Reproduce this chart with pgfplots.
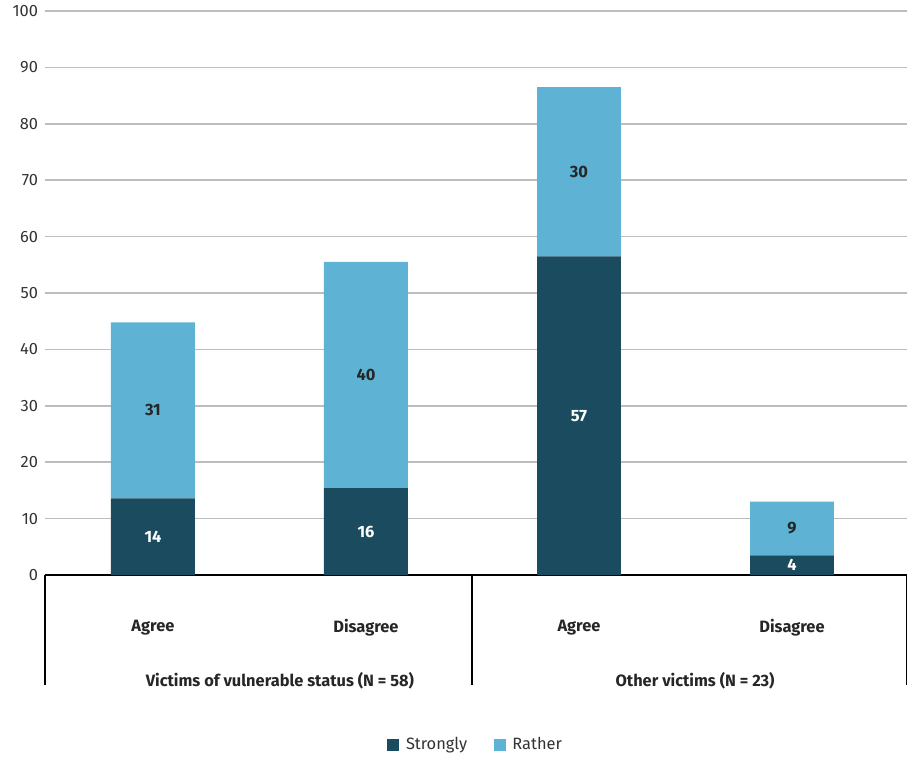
\documentclass[border=0pt]{standalone}
\usepackage{pgfplots}
\pgfplotsset{compat=1.18}
\usepackage{fontspec}
\setmainfont{Fira Sans}
\definecolor{dark}{HTML}{1B4B5E}
\definecolor{light}{HTML}{5EB2D4}
\definecolor{gridc}{HTML}{BDBDBD}
\definecolor{txt}{HTML}{333333}
\newcommand{\fs}{\fontsize{12.3}{14}\selectfont}
\begin{document}
\begin{tikzpicture}
\pgfplotsset{common/.style={
  scale only axis, width=646.5pt, height=423pt,
  xmin=-0.507, xmax=3.54, ymin=0, ymax=100, clip=false}}
\begin{axis}[common,
  ybar stacked, bar width=0.394,
  ytick={0,10,...,100},
  xtick={0,1,2,3},
  xticklabels={Agree,Disagree,Agree,Disagree},
  xticklabel style={anchor=center, yshift=-39.75pt, font=\bfseries\fs, text=black!85},
  yticklabel style={anchor=east, inner sep=0pt, xshift=-5pt, font=\fs, text=txt},
  /pgf/number format/assume math mode=true,
  axis line style={draw=none}, major tick style={draw=none},
  ymajorgrids, grid style={gridc, line width=1.1pt},
  legend style={at={(0.5,-0.301)}, anchor=center, draw=none, legend columns=2,
    font=\fs, text=txt,
    /tikz/every odd column/.append style={column sep=3pt},
    /tikz/every even column/.append style={column sep=18pt}},
  legend image code/.code={\fill[#1] (0pt,-4.5pt) rectangle (9pt,4.5pt);},
]
\addplot[fill=dark, draw=none] coordinates {(0,13.6) (1,15.4) (2,56.5) (3,3.5)};
\addlegendentry{Strongly}
\addplot[fill=light, draw=none] coordinates {(0,31.2) (1,40.1) (2,30.0) (3,9.5)};
\addlegendentry{Rather}
\draw[black, line width=1pt] (axis cs:-0.507,0) -- (axis cs:3.54,0);
\draw[black, line width=1pt] (axis cs:-0.507,0) -- (axis cs:-0.507,-19.5);
\draw[black, line width=1pt] (axis cs:1.498,0) -- (axis cs:1.498,-19.5);
\draw[black, line width=1pt] (axis cs:3.54,0) -- (axis cs:3.54,-19.5);
\node[font=\bfseries\fs, text=black!85] at (axis cs:0.596,-18.8) {Victims of vulnerable status (N = 58)};
\node[font=\bfseries\fs, text=black!85] at (axis cs:2.545,-18.8) {Other victims (N = 23)};
\coordinate (tl) at (axis cs:-0.718,101.95);
\coordinate (br) at (axis cs:3.54,-32.45);
\end{axis}
\begin{axis}[common, hide axis]
\addplot[draw=none, mark=none, nodes near coords, point meta=explicit symbolic,
  every node near coord/.style={anchor=center, text=white, font=\bfseries\fs}]
  table[meta=l] {
x y l
0 6.8 14
1 7.7 16
2 28.25 57
3 1.75 4
};
\addplot[draw=none, mark=none, nodes near coords, point meta=explicit symbolic,
  every node near coord/.style={anchor=center, text=black!85, font=\bfseries\fs}]
  table[meta=l] {
x y l
0 29.2 31
1 35.45 40
2 71.5 30
3 8.25 9
};
\end{axis}
\pgfresetboundingbox
\path[use as bounding box] (tl) rectangle (br);
\end{tikzpicture}
\end{document}
